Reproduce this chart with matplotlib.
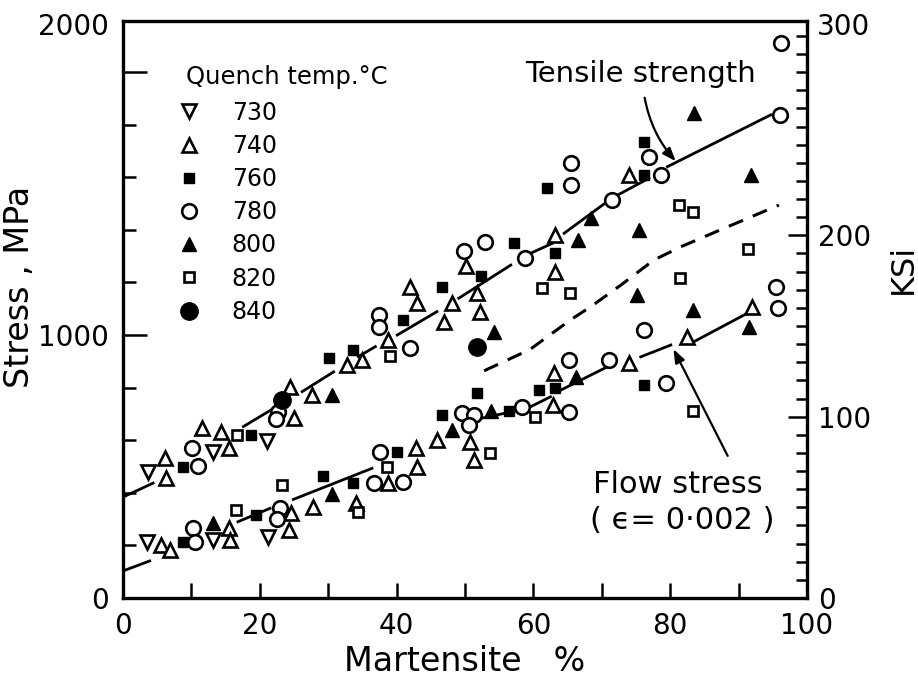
import numpy as np
import matplotlib
matplotlib.use("Agg")
import matplotlib.pyplot as plt
from matplotlib.patches import FancyArrowPatch

# quench temperature groups: martensite %, stress MPa
x730 = [3.7, 13.2, 21.0, 3.5, 13.1, 21.2]
y730 = [480, 556, 598, 214, 220, 233]

x740 = [6.2, 6.3, 11.5, 14.4, 15.5, 24.4, 25.0, 27.6, 32.8, 34.9, 38.8, 42.0, 43.0,
        46.9, 48.1, 50.1, 51.8, 52.2, 63.1, 63.1, 74.0,
        5.6, 6.8, 15.5, 15.6, 24.6, 24.2, 27.8, 34.0, 38.8, 43.0, 42.8, 45.9, 50.8,
        51.3, 63.0, 62.8, 74.0, 82.5, 92.0]
y740 = [531, 455, 645, 633, 569, 803, 683, 772, 886, 905, 983, 1184, 1120,
        1051, 1120, 1262, 1159, 1089, 1380, 1241, 1608,
        201, 182, 265, 220, 322, 259, 347, 361, 436, 499, 569, 601, 594,
        525, 854, 734, 892, 994, 1108]

x760 = [8.7, 18.7, 30.1, 33.7, 40.9, 46.7, 52.3, 57.1, 63.1, 62.0, 76.2, 76.2,
        8.7, 19.5, 29.3, 33.7, 40.1, 46.7, 51.8, 56.5, 60.8, 63.2, 76.2]
y760 = [497, 620, 911, 943, 1057, 1184, 1225, 1349, 1311, 1558, 1608, 1735,
        214, 316, 465, 437, 556, 696, 778, 710, 791, 797, 810]

x780 = [11.0, 10.1, 22.7, 22.4, 37.4, 37.4, 42.0, 49.9, 52.9, 58.8, 65.5, 65.5,
        71.5, 76.9, 78.6, 96.2, 96.0,
        10.2, 10.5, 22.9, 22.5, 36.7, 41.0, 37.6, 49.6, 51.3, 50.6, 58.4, 65.2,
        65.2, 71.1, 76.2, 79.4, 95.5, 95.7]
y780 = [502, 569, 708, 679, 1076, 1029, 949, 1319, 1354, 1292, 1653, 1570,
        1513, 1678, 1608, 2109, 1837,
        265, 214, 341, 299, 436, 442, 556, 705, 696, 658, 725, 905,
        708, 905, 1019, 816, 1184, 1101]

x800 = [30.6, 13.1, 30.6, 48.1, 53.8, 54.3, 66.5, 68.4, 75.4, 83.5, 91.8, 75.2,
        83.3, 66.2, 91.6]
y800 = [772, 286, 395, 639, 711, 1013, 1361, 1445, 1399, 1843, 1608, 1152,
        1095, 842, 1032]

x820 = [16.6, 39.1, 61.2, 65.4, 81.3, 83.3, 91.4, 81.5, 16.5, 23.2, 34.3, 38.6,
        53.7, 60.3, 83.4]
y820 = [620, 920, 1178, 1161, 1494, 1469, 1327, 1216, 335, 430, 327, 499,
        550, 689, 710]

x840 = [23.3, 51.8]
y840 = [753, 956]

# fitted curves (NaN separates the drawn pieces)
ts_x = [0, 4.4, np.nan, 17.6, 22.4, np.nan, 26.2, 30.8, np.nan, 34.4, 36.9, np.nan,
        40.1, 45.9, np.nan, 49.1, 56.7, np.nan, 59.6, 62.8, np.nan, 64.5, 71.1, np.nan,
        72.3, 76.9, np.nan, 79.6, 94.7]
ts_y = [384, 437, np.nan, 652, 727, np.nan, 785, 860, np.nan, 918, 956, np.nan,
        1000, 1089, np.nan, 1140, 1266, np.nan, 1311, 1349, np.nan, 1387, 1513, np.nan,
        1532, 1596, np.nan, 1640, 1837]

fs_x = [0, 3.9, np.nan, 16.8, 21.5, np.nan, 24.9, 36.4, np.nan, 52.3, 59.1, 62.5,
        np.nan, 63.5, 70.8, np.nan, 75.7, 80.1, np.nan, 83.5, 91.3]
fs_y = [103, 141, np.nan, 290, 341, np.nan, 375, 493, np.nan, 683, 721, 765,
        np.nan, 784, 879, np.nan, 917, 962, np.nan, 975, 1083]

dash_x = [52.8, 59.5, 65.4, 68.4, 72.8, 77.6, 81.6, 87.9, 95.9]
dash_y = [864, 945, 1057, 1108, 1190, 1285, 1336, 1406, 1494]

FS = 20
plt.rcParams['font.family'] = 'DejaVu Sans'

fig = plt.figure(figsize=(9.18, 6.87), dpi=100)
ax = fig.add_axes([0.134, 0.1295, 0.745, 0.8399])

ax.plot(ts_x, ts_y, color='black', lw=2.0, zorder=2)
ax.plot(fs_x, fs_y, color='black', lw=2.0, zorder=2)
ax.plot(dash_x, dash_y, color='black', lw=2.2, dashes=(5, 3.5), zorder=2)

mew = 1.9
h730, = ax.plot(x730, y730, 'v', ms=9.5, mfc='white', mec='black', mew=mew, ls='none', zorder=3)
h740, = ax.plot(x740, y740, '^', ms=9.5, mfc='white', mec='black', mew=mew, ls='none', zorder=3)
h760, = ax.plot(x760, y760, 's', ms=7, mfc='black', mec='black', mew=1, ls='none', zorder=3)
h780, = ax.plot(x780, y780, 'o', ms=10.5, mfc='white', mec='black', mew=mew, ls='none', zorder=3)
h800, = ax.plot(x800, y800, '^', ms=10.5, mfc='black', mec='black', mew=1, ls='none', zorder=3)
h820, = ax.plot(x820, y820, 's', ms=7.5, mfc='white', mec='black', mew=mew, ls='none', zorder=3)
h840, = ax.plot(x840, y840, 'o', ms=12.5, mfc='black', mec='black', mew=1, ls='none', zorder=3)

temps = ['730', '740', '760', '780', '800', '820', '840']
ax.text(0.092, 0.903, 'Quench temp.°C', ha='left', va='center', fontsize=17.5,
        transform=ax.transAxes)
leg = ax.legend([h730, h740, h760, h780, h800, h820, h840], temps,
                loc='upper left', bbox_to_anchor=(0.083, 0.862),
                frameon=False, fontsize=17, handlelength=0.8,
                handletextpad=1.4, labelspacing=0.39, borderpad=0, borderaxespad=0)

ax.set_xlim(0, 100)
ax.set_ylim(0, 2194)
ax.set_xticks([0, 20, 40, 60, 80, 100])
ax.set_xticks(np.arange(10, 100, 20), minor=True)
ax.set_yticks([0, 1000, 2000])
ax.set_yticklabels(['0', '1000', ''])
ax.set_yticks(np.arange(200, 2000, 200), minor=True)
ax.tick_params(axis='x', which='both', direction='in', length=11, width=1.8,
               labelsize=FS, pad=10, top=False)
ax.tick_params(axis='y', which='major', direction='in', length=17, width=1.8,
               labelsize=FS, pad=10, right=False)
ax.tick_params(axis='y', which='minor', direction='in', length=9, width=1.8, right=False)
for s in ax.spines.values():
    s.set_linewidth(2.4)
ax.text(-0.02, 2171, '2000', ha='right', va='center', fontsize=FS,
        transform=ax.get_yaxis_transform())

ax2 = ax.twinx()
ax2.set_ylim(0, 2194 / 6.895)
ax2.set_yticks([0, 100, 200])
ax2.set_yticks(np.arange(10, 320, 10), minor=True)
ax2.tick_params(axis='y', which='major', direction='in', length=14, width=1.8,
                labelsize=FS, pad=8)
ax2.tick_params(axis='y', which='minor', direction='in', length=8, width=1.8)
ax2.text(1.015, 2171 / 6.895, '300', ha='left', va='center', fontsize=FS,
         transform=ax2.get_yaxis_transform())
ax2.set_ylabel('KSi', fontsize=23)
ax2.yaxis.set_label_coords(1.118, 0.57)

ax.set_xlabel('Martensite   %', fontsize=24, labelpad=4)
ax.set_ylabel('Stress , MPa', fontsize=24)
ax.yaxis.set_label_coords(-0.127, 0.54)

ax.text(75.7, 1992, 'Tensile strength', ha='center', va='center', fontsize=21)
ax.text(81.1, 433, 'Flow stress', ha='center', va='center', fontsize=22)
ax.text(81.7, 293, '( ϵ= 0·002 )', ha='center', va='center', fontsize=22)

ax.add_patch(FancyArrowPatch((76.2, 1913), (81.1, 1653), connectionstyle='arc3,rad=0.15',
                             arrowstyle='-|>,head_length=8,head_width=3', lw=1.6,
                             color='black', zorder=4))
ax.add_patch(FancyArrowPatch((88.6, 531), (80.3, 956),
                             arrowstyle='-|>,head_length=8,head_width=3', lw=1.6,
                             color='black', zorder=4))

fig.savefig('out.png', dpi=100)
